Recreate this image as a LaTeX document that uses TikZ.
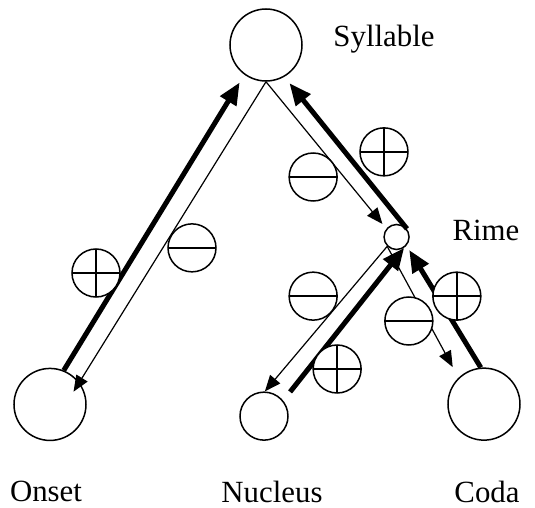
\documentclass[tikz,border=0pt]{standalone}
\usepackage{fontspec}
\setmainfont{Liberation Serif}
\usetikzlibrary{calc}
\usetikzlibrary{arrows.meta}
\tikzstyle{unitnode} = [draw, circle, line width=1.5pt, inner sep=0]
\tikzstyle{labelnode} = [anchor=base, inner sep=0, font=\fontsize{30.7}{36}\selectfont]
\tikzstyle{signnode} = [draw, circle, fill=white, line width=1.5pt, inner sep=0, minimum size=1.68cm]
\tikzstyle{minusnode} = [signnode, path picture={\draw[line width=1.5pt] (path picture bounding box.west) -- (path picture bounding box.east);}]
\tikzstyle{plusnode} = [signnode, path picture={\draw[line width=1.5pt] (path picture bounding box.west) -- (path picture bounding box.east); \draw[line width=1.5pt] (path picture bounding box.north) -- (path picture bounding box.south);}]
\tikzstyle{downarrow} = [line width=1.2pt, -{Triangle[length=16pt,width=13pt]}]
\tikzstyle{uparrow} = [line width=5pt, -{Triangle[length=22pt,width=18pt]}]

\begin{document}
\begin{tikzpicture}
    \node[unitnode, minimum size=2.52cm] (syl) {};
    \useasboundingbox ($(syl)+(-9.31,1.575)$) rectangle ($(syl)+(9.415,-16.205)$);
    \node[unitnode, minimum size=2.52cm] (ons) at ($(syl)+(-7.56,-12.58)$) {};
    \node[unitnode, minimum size=0.875cm] (rime) at ($(syl)+(4.57,-6.72)$) {};
    \node[unitnode, minimum size=1.68cm] (nuc) at ($(rime)+(-4.64,-6.27)$) {};
    \node[unitnode, minimum size=2.52cm] (coda) at ($(rime)+(3.06,-5.85)$) {};

    \node[labelnode] (syl_label) at ($(syl)+(4.13,-0.07)$) {Syllable};
    \node[labelnode] (rime_label) at ($(rime)+(3.13,-0.105)$) {Rime};
    \node[labelnode] (ons_label) at ($(ons)+(-0.14,-3.41)$) {Onset};
    \node[labelnode] (nuc_label) at ($(nuc)+(0.28,-3.01)$) {Nucleus};
    \node[labelnode] (coda_label) at ($(coda)+(0.105,-3.43)$) {Coda};

    \draw[downarrow, shorten >=-11pt] (syl.south) -- (ons.37);
    \draw[uparrow, shorten >=9pt] (ons.68) -- (syl.234);
    \draw[downarrow, shorten >=6pt] (syl.south) -- (rime.141);
    \draw[uparrow, shorten >=8pt] (rime.38) -- (syl.300);
    \draw[downarrow] (rime.225) -- (nuc.88);
    \draw[uparrow, shorten <=11pt] (nuc.39) -- (rime.305);
    \draw[downarrow, shorten >=12pt] (rime.225) -- (coda.134);
    \draw[uparrow, shorten >=5pt] (coda.95) -- (rime.319);

    \node[plusnode] (plus_ons) at ($(ons)+(1.61,4.60)$) {};
    \node[minusnode] (minus_ons) at ($(ons)+(4.97,5.48)$) {};
    \node[minusnode] (minus_rime) at ($(rime)+(-2.92,2.10)$) {};
    \node[plusnode] (plus_rime) at ($(rime)+(-0.44,2.98)$) {};
    \node[minusnode] (minus_nuc) at ($(nuc)+(1.72,4.20)$) {};
    \node[plusnode] (plus_nuc) at ($(nuc)+(2.56,1.65)$) {};
    \node[minusnode] (minus_coda) at ($(coda)+(-2.63,2.91)$) {};
    \node[plusnode] (plus_coda) at ($(coda)+(-0.95,3.78)$) {};
\end{tikzpicture}
\end{document}
